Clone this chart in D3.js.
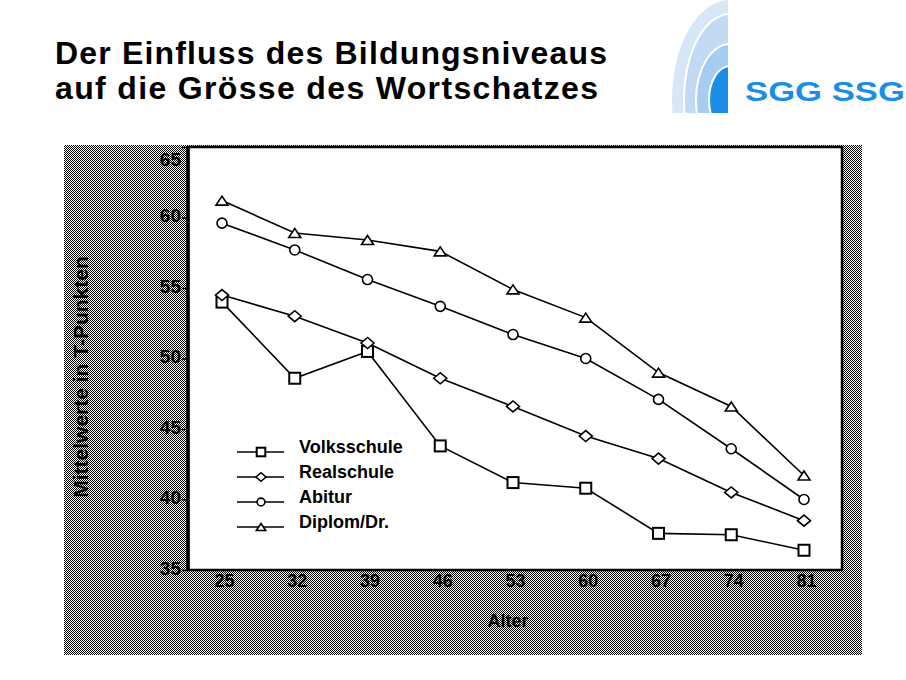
<!DOCTYPE html>
<html><head><meta charset="utf-8">
<script src="https://cdn.jsdelivr.net/npm/d3@7"></script>
<style>
html,body{margin:0;padding:0;background:#fff;}
svg{display:block;}
text{font-family:"Liberation Sans",Arial,sans-serif;font-weight:bold;}
</style></head>
<body>
<script>
// ---- data ----
const ages = [25, 32, 39, 46, 53, 60, 67, 74, 81];
const volksschule = [54.0, 48.6, 50.5, 43.8, 41.2, 40.8, 37.6, 37.5, 36.4];
const realschule  = [54.5, 53.0, 51.1, 48.6, 46.6, 44.5, 42.9, 40.5, 38.5];
const abitur      = [59.6, 57.7, 55.6, 53.7, 51.7, 50.0, 47.1, 43.6, 40.0];
const diplom      = [61.2, 58.9, 58.4, 57.6, 54.9, 52.9, 49.0, 46.6, 41.7];
const seriesNames = ["Volksschule", "Realschule", "Abitur", "Diplom/Dr."];
const seriesValues = [volksschule, realschule, abitur, diplom];
const seriesMarkers = ["square", "diamond", "circle", "triangle"];
const yTicks = [35, 40, 45, 50, 55, 60, 65];
const titleLines = ["Der Einfluss des Bildungsniveaus", "auf die Grösse des Wortschatzes"];
const yTitle = "Mittelwerte in T-Punkten";
const xTitle = "Alter";
const logoText = "SGG SSG";

const W = 906, H = 680;
const svg = d3.select("body").append("svg").attr("width", W).attr("height", H);
const defs = svg.append("defs");

// dither pattern
const pat = defs.append("pattern").attr("id", "dith").attr("width", 2).attr("height", 2)
  .attr("patternUnits", "userSpaceOnUse");
pat.append("rect").attr("width", 2).attr("height", 2).attr("fill", "#ffffff");
pat.append("rect").attr("x", 0).attr("y", 0).attr("width", 1).attr("height", 1).attr("fill", "#000");
pat.append("rect").attr("x", 1).attr("y", 1).attr("width", 1).attr("height", 1).attr("fill", "#000");

// ---- title ----
svg.append("text").attr("x", 55).attr("y", 64).attr("font-size", 32)
  .attr("textLength", 552).attr("lengthAdjust", "spacing").text(titleLines[0]);
svg.append("text").attr("x", 55).attr("y", 99).attr("font-size", 32)
  .attr("textLength", 543).attr("lengthAdjust", "spacing").text(titleLines[1]);

// ---- logo ----
defs.append("clipPath").attr("id", "logoclip").append("rect")
  .attr("x", 660).attr("y", 0).attr("width", 68).attr("height", 113);
const lg = svg.append("g").attr("clip-path", "url(#logoclip)");
const ell = [
  [58, 100, "#d8e7f8"], [47, 87, "#fff"],
  [45, 85, "#c2daf4"], [35, 57, "#fff"],
  [33, 55, "#a6ccf1"], [22, 35, "#fff"],
  [20, 33, "#1b8de6"]
];
ell.forEach(e => lg.append("ellipse").attr("cx", 730).attr("cy", 100)
  .attr("rx", e[0]).attr("ry", e[1]).attr("fill", e[2]));
svg.append("text").attr("x", 745).attr("y", 101).attr("font-size", 28)
  .attr("font-family", "DejaVu Sans").attr("fill", "#1b8de6")
  .attr("textLength", 160).attr("lengthAdjust", "spacingAndGlyphs").text(logoText);

// ---- chart panel ----
svg.append("rect").attr("x", 64).attr("y", 145).attr("width", 798).attr("height", 510)
  .attr("fill", "url(#dith)").attr("shape-rendering", "crispEdges");

const x = d3.scalePoint().domain(ages).range([222, 804]);
const y = d3.scaleLinear().domain([35, 65]).range([570, 147]);

const plotL = 188, plotR = 842, plotT = 147, plotB = 570;
svg.append("rect").attr("x", plotL).attr("y", plotT).attr("width", plotR - plotL).attr("height", plotB - plotT)
  .attr("fill", "#fff").attr("stroke", "#000").attr("stroke-width", 2.5);
svg.append("line").attr("x1", plotL).attr("x2", plotL).attr("y1", plotT).attr("y2", plotB)
  .attr("stroke", "#000").attr("stroke-width", 3.5);

// y axis
const yAxis = svg.append("g").attr("transform", `translate(${plotL},0)`)
  .call(d3.axisLeft(y).tickValues(yTicks).tickSize(6).tickFormat(d3.format("d")));
yAxis.select(".domain").remove();
yAxis.selectAll(".tick line").attr("stroke", "#000").attr("stroke-width", 1.5);
yAxis.selectAll(".tick text").attr("font-size", 19).attr("font-family", "Liberation Sans")
  .attr("font-weight", "bold").attr("fill", "#000").attr("x", -7)
  .attr("dy", null).attr("y", d => Math.max(4, (165 - y(d)))).attr("dominant-baseline", "auto");

// x axis
const xAxis = svg.append("g").attr("transform", `translate(0,${plotB})`)
  .call(d3.axisBottom(x).tickSize(0).tickFormat(d3.format("d")));
xAxis.select(".domain").remove();
xAxis.selectAll(".tick text").attr("font-size", 18).attr("font-family", "Liberation Sans")
  .attr("font-weight", "bold").attr("fill", "#000").attr("dy", null).attr("y", 17)
  .attr("dx", 2);

// axis titles
svg.append("text").attr("transform", "translate(88,377) rotate(-90)").attr("text-anchor", "middle")
  .attr("font-size", 21).text(yTitle);
svg.append("text").attr("x", 508).attr("y", 627).attr("text-anchor", "middle")
  .attr("font-size", 18).text(xTitle);

// markers
function drawMarker(g, type, cx, cy, s) {
  if (type === "square") {
    g.append("rect").attr("x", cx - 5.5 * s).attr("y", cy - 5.5 * s).attr("width", 11 * s).attr("height", 11 * s)
      .attr("fill", "#fff").attr("stroke", "#000").attr("stroke-width", 2);
  } else if (type === "circle") {
    g.append("circle").attr("cx", cx).attr("cy", cy).attr("r", 5 * s)
      .attr("fill", "#fff").attr("stroke", "#000").attr("stroke-width", 1.6);
  } else if (type === "diamond") {
    const a = 6.5 * s, b = 5.5 * s;
    g.append("path").attr("d", `M${cx - a},${cy}L${cx},${cy - b}L${cx + a},${cy}L${cx},${cy + b}Z`)
      .attr("fill", "#fff").attr("stroke", "#000").attr("stroke-width", 1.6);
  } else {
    const a = 6 * s, h = 9 * s;
    g.append("path").attr("d", `M${cx - a},${cy + h / 2}L${cx},${cy - h / 2}L${cx + a},${cy + h / 2}Z`)
      .attr("fill", "#fff").attr("stroke", "#000").attr("stroke-width", 1.6);
  }
}

const line = d3.line().x((d, i) => x(ages[i])).y(d => y(d));
const gSeries = svg.append("g");
seriesValues.forEach((vals, k) => {
  gSeries.append("path").attr("d", line(vals)).attr("fill", "none")
    .attr("stroke", "#000").attr("stroke-width", 1.6);
});
seriesValues.forEach((vals, k) => {
  vals.forEach((v, i) => drawMarker(gSeries, seriesMarkers[k], x(ages[i]), y(v), 1));
});

// legend
const leg = svg.append("g");
seriesNames.forEach((name, k) => {
  const ly = 452 + k * 25;
  leg.append("line").attr("x1", 237).attr("x2", 284).attr("y1", ly).attr("y2", ly)
    .attr("stroke", "#000").attr("stroke-width", 1.6);
  drawMarker(leg, seriesMarkers[k], 261, ly, 0.78);
  leg.append("text").attr("x", 299).attr("y", ly + 1).attr("font-size", 18).text(name);
});
</script>
</body></html>
